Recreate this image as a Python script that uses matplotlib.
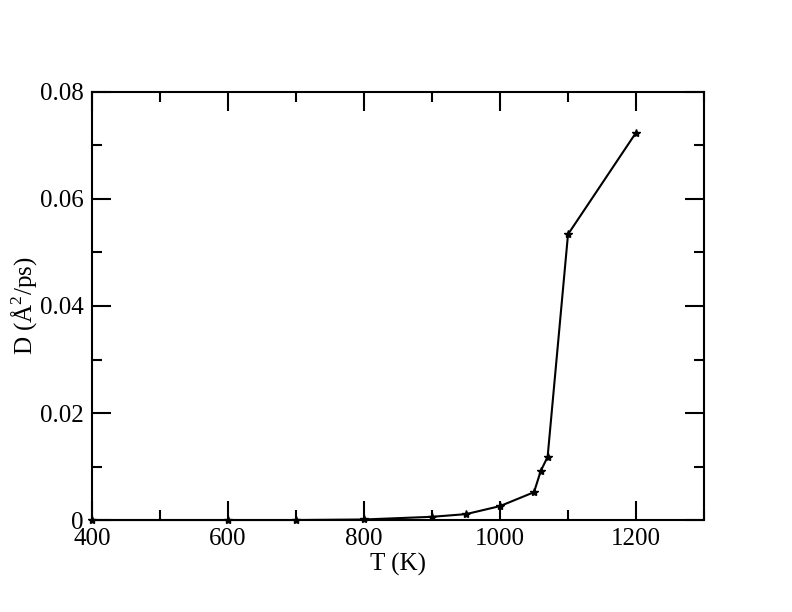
import matplotlib
matplotlib.use("Agg")
import matplotlib.pyplot as plt

plt.rcParams['font.family'] = ['Liberation Serif', 'DejaVu Serif']
plt.rcParams['mathtext.fontset'] = 'custom'
plt.rcParams['mathtext.rm'] = 'Liberation Serif'

# temperature (K) and diffusion coefficient (A^2/ps)
T = [400, 600, 700, 800, 900, 950, 1000, 1050, 1060, 1070, 1100, 1200]
D = [0.0, 0.0, 0.0, 0.0001, 0.0006, 0.0011, 0.0026, 0.0052, 0.0092, 0.0118, 0.0534, 0.0724]

fig = plt.figure(figsize=(7.92, 6.12), dpi=100)
ax = fig.add_axes([0.1162, 0.1503, 0.7727, 0.6994])
ax.plot(T, D, color='k', lw=1.5, marker='*', ms=6, clip_on=False)

ax.set_xlim(400, 1300)
ax.set_ylim(0, 0.08)
ax.set_xticks([400, 600, 800, 1000, 1200])
ax.set_xticks([500, 700, 900, 1100, 1300], minor=True)
ax.set_yticks([0, 0.02, 0.04, 0.06, 0.08])
ax.set_yticklabels(['0', '0.02', '0.04', '0.06', '0.08'])
ax.set_yticks([0.01, 0.03, 0.05, 0.07], minor=True)
ax.tick_params(which='both', direction='in', top=True, right=True, labelsize=18, width=1.5)
ax.tick_params(axis='y', pad=6)
ax.tick_params(axis='x', pad=6)
ax.tick_params(which='major', length=14)
ax.tick_params(which='minor', length=7)
for s in ax.spines.values():
    s.set_linewidth(1.5)

ax.set_xlabel('T (K)', fontsize=18, labelpad=2)
ax.set_ylabel(r'D ($\mathrm{\AA}^2$/ps)', fontsize=18)
ax.yaxis.set_label_coords(-0.085, 0.5)

fig.savefig('out.png', dpi=100)
